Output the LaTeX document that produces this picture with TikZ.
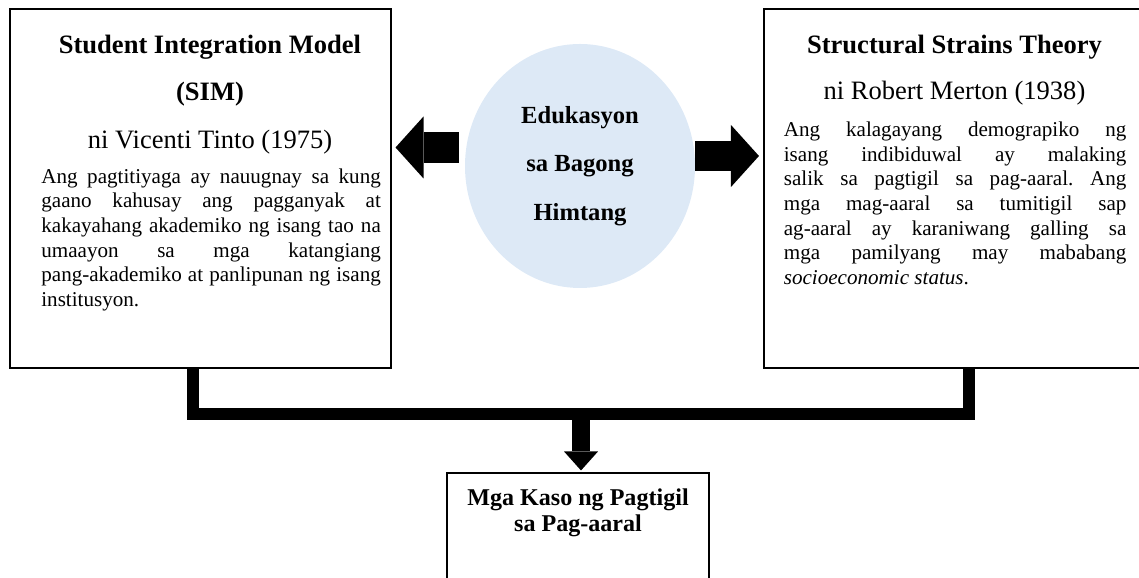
\documentclass[tikz,border=0pt]{standalone}
\usepackage{fontspec}
\setmainfont{Liberation Serif}
\usepackage{tikz}
\usepackage{xcolor}
\usetikzlibrary{calc}
\usetikzlibrary{positioning}
\usetikzlibrary{shapes.geometric}
\usetikzlibrary{arrows.meta}

\definecolor{bubble}{RGB}{221,233,246}

\begin{document}
\begin{tikzpicture}[
  theorybox/.style={draw=black,line width=0.6pt,minimum width=7.62cm,minimum height=7.18cm},
  titletext/.style={inner sep=0,anchor=base,font=\fontsize{15.1}{18}\selectfont},
  bodytext/.style={inner sep=0,anchor=base west,align=justify,
    font={\fontsize{12}{14}\selectfont\frenchspacing\tolerance=10000\relax\hyphenpenalty=10000\relax}},
  blockarrow/.style={line width=0.61cm,-{Triangle[length=0.56cm,width=1.24cm,line width'=0pt]}},
  downarrow/.style={line width=0.36cm,-{Triangle[length=0.38cm,width=0.68cm,line width'=0pt]}},
  joinline/.style={line width=0.24cm}
]
\useasboundingbox (0,0) rectangle (22.78,11.56);

% Tinto
\node[theorybox] (sim) at (4.01,7.79) {};
\node[titletext] (simtitle) at (4.2,10.494) {\textbf{Student Integration Model}};
\node[titletext] (simshort) at (4.2,9.546) {\textbf{(SIM)}};
\node[titletext] (simauthor) at (4.2,8.58) {ni Vicenti Tinto (1975)};
\node[bodytext,text width=6.79cm] (simbody) at (0.82,7.894)
  {Ang pagtitiyaga ay nauugnay sa kung\linebreak
   gaano kahusay ang pagganyak at\linebreak
   kakayahang akademiko ng isang tao na\linebreak
   umaayon sa mga katangiang\linebreak
   pang-akademiko at panlipunan ng isang\linebreak
   institusyon.};

% Merton
\node[theorybox,minimum width=7.72cm] (sst) at (19.14,7.79) {};
\node[titletext] (ssttitle) at (19.09,10.494) {\textbf{Structural Strains Theory}};
\node[titletext] (sstauthor) at (19.09,9.56) {ni Robert Merton (1938)};
\node[bodytext,text width=6.85cm] (sstbody) at (15.67,8.826)
  {Ang kalagayang demograpiko ng\linebreak
   isang indibiduwal ay malaking\linebreak
   salik sa pagtigil sa pag-aaral. Ang\linebreak
   mga mag-aaral sa tumitigil sap\linebreak
   ag-aaral ay karaniwang galling sa\linebreak
   mga pamilyang may mababang\linebreak
   \textit{socioeconomic status}.};

% center
\node[ellipse,fill=bubble,minimum width=4.6cm,minimum height=4.88cm,inner sep=0,align=center,
  font=\bfseries\fontsize{14}{27.6}\selectfont] (circ) at (11.6,8.24)
  {Edukasyon\\sa Bagong\\Himtang};

\coordinate (lefttail) at ($(circ.west)+(-0.12,0.37)$);
\coordinate (righttail) at ($(circ.east)+(0,0.2)$);
\draw[blockarrow] (lefttail) -- ($(sim.east |- lefttail)+(0.08,0)$);
\draw[blockarrow] (righttail) -- ($(sst.west |- righttail)+(-0.09,0)$);

% bottom
\node[draw=black,line width=0.6pt,minimum width=5.24cm,minimum height=2.6cm] (kaso) at (11.56,0.8) {};
\node[inner sep=0,anchor=base,align=center,font=\bfseries\fontsize{13.7}{14.8}\selectfont]
  (kasotext) at (11.56,0.92) {Mga Kaso ng Pagtigil\\sa Pag-aaral};

\coordinate (leftjoin) at (3.85,3.285);
\coordinate (rightjoin) at (19.38,3.285);
\coordinate (midjoin) at (11.62,3.285);
\draw[joinline] (sim.south -| leftjoin) -- (leftjoin) -- (rightjoin) -- (sst.south -| rightjoin);
\draw[downarrow] (midjoin) -- ($(kaso.north -| midjoin)+(0,0.04)$);
\end{tikzpicture}
\end{document}
